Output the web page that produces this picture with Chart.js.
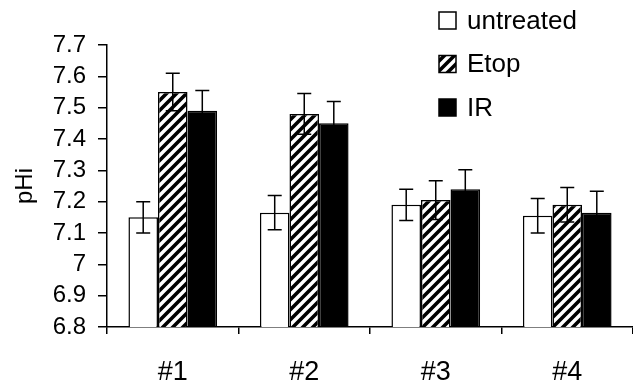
<!DOCTYPE html>
<html>
<head>
<meta charset="utf-8">
<script src="https://cdn.jsdelivr.net/npm/chart.js@4.4.1/dist/chart.umd.min.js"></script>
<style>
  html, body { margin: 0; padding: 0; background: #fff; overflow: hidden; }
  #wrap { width: 633px; height: 384px; }
</style>
</head>
<body>
<div id="wrap"><canvas id="c" width="633" height="384"></canvas></div>
<script>
// ---- data ----
const categories = ['#1', '#2', '#3', '#4'];
const seriesNames = ['untreated', 'Etop', 'IR'];
const untreated = [7.15, 7.165, 7.19, 7.155];
const etop = [7.55, 7.48, 7.205, 7.19];
const ir = [7.49, 7.45, 7.24, 7.165];
const untreatedErr = [0.05, 0.055, 0.05, 0.055];
const etopErr = [0.06, 0.065, 0.062, 0.055];
const irErr = [0.065, 0.07, 0.062, 0.068];
const yMin = 6.8, yMax = 7.7, yStep = 0.1;

const FONT = "'Liberation Sans', Arial, sans-serif";

function makeHatch() {
  const s = 10;
  const c = document.createElement('canvas');
  c.width = s; c.height = s;
  const g = c.getContext('2d');
  g.fillStyle = '#fff';
  g.fillRect(0, 0, s, s);
  g.strokeStyle = '#000';
  g.lineWidth = 3.6;
  g.beginPath();
  g.moveTo(-2, 2); g.lineTo(2, -2);
  g.moveTo(0, s); g.lineTo(s, 0);
  g.moveTo(s - 2, s + 2); g.lineTo(s + 2, s - 2);
  g.stroke();
  return c;
}
const ctx = document.getElementById('c').getContext('2d');
const hatch = ctx.createPattern(makeHatch(), 'repeat');

const errs = [untreatedErr, etopErr, irErr];

const errorBarPlugin = {
  id: 'errorBars',
  afterDatasetsDraw(chart) {
    const g = chart.ctx;
    const yScale = chart.scales.y;
    g.save();
    g.strokeStyle = '#000';
    g.lineWidth = 1.5;
    chart.data.datasets.forEach((ds, i) => {
      const meta = chart.getDatasetMeta(i);
      meta.data.forEach((el, j) => {
        const v = ds.data[j], e = errs[i][j];
        const yt = yScale.getPixelForValue(v + e);
        const yb = yScale.getPixelForValue(v - e);
        const x = el.x;
        g.beginPath();
        g.moveTo(x, yt); g.lineTo(x, yb);
        g.moveTo(x - 7, yt); g.lineTo(x + 7, yt);
        g.moveTo(x - 7, yb); g.lineTo(x + 7, yb);
        g.stroke();
      });
    });
    g.restore();
  }
};

const legendPlugin = {
  id: 'customLegend',
  afterDraw(chart) {
    const g = chart.ctx;
    g.save();
    const bx = 439, tx = 467, box = 17;
    const rows = [20.5, 64, 107.5];
    chart.data.datasets.forEach((ds, i) => {
      const cy = rows[i];
      g.fillStyle = ds.backgroundColor;
      g.fillRect(bx, cy - box / 2, box, box);
      g.strokeStyle = '#000';
      g.lineWidth = 1.5;
      g.strokeRect(bx, cy - box / 2, box, box);
      g.fillStyle = '#000';
      g.font = '26px ' + FONT;
      g.textBaseline = 'middle';
      g.textAlign = 'left';
      g.fillText(ds.label, tx, cy + 1);
    });
    g.restore();
  }
};

new Chart(ctx, {
  type: 'bar',
  data: {
    labels: categories,
    datasets: [
      { label: seriesNames[0], data: untreated, backgroundColor: '#ffffff', borderColor: '#000', borderWidth: 1.5 },
      { label: seriesNames[1], data: etop, backgroundColor: hatch, borderColor: '#000', borderWidth: 1.5 },
      { label: seriesNames[2], data: ir, backgroundColor: '#000000', borderColor: '#000', borderWidth: 1.5 }
    ]
  },
  options: {
    responsive: false,
    animation: false,
    layout: { padding: { top: 45, right: -6, bottom: 0, left: 0 } },
    datasets: { bar: { categoryPercentage: 0.674, barPercentage: 1.0 } },
    plugins: { legend: { display: false }, tooltip: { enabled: false } },
    scales: {
      x: {
        grid: { display: true, drawOnChartArea: false, drawTicks: true, tickLength: 7, color: '#000', lineWidth: 1.5 },
        border: { display: true, color: '#000', width: 1.5 },
        ticks: { color: '#000', font: { family: FONT, size: 27 }, padding: 22, maxRotation: 0, autoSkip: false },
        afterFit(scale) { scale.height = 57; }
      },
      y: {
        min: yMin, max: yMax,
        grid: { display: true, drawOnChartArea: false, drawTicks: true, tickLength: 9, color: '#000', lineWidth: 1.5 },
        border: { display: true, color: '#000', width: 1.5 },
        ticks: {
          stepSize: yStep, color: '#000', font: { family: FONT, size: 24 }, padding: 12, autoSkip: false,
          callback: (v) => String(Number(Number(v).toFixed(1)))
        },
        title: { display: true, text: 'pHi', color: '#000', font: { family: FONT, size: 24 }, padding: { top: 11, bottom: 0 } },
        afterFit(scale) { scale.width = 107; }
      }
    }
  },
  plugins: [errorBarPlugin, legendPlugin]
});
</script>
</body>
</html>
